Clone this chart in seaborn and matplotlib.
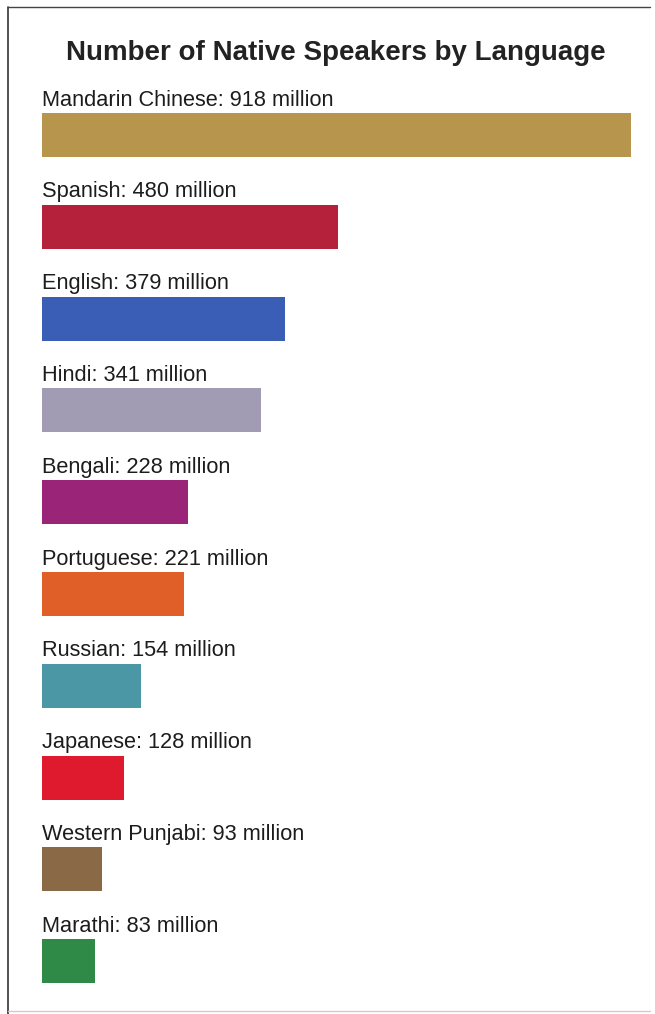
import matplotlib
matplotlib.use("Agg")
import matplotlib.pyplot as plt
import seaborn as sns
import pandas as pd
from matplotlib.lines import Line2D

languages = ["Mandarin Chinese", "Spanish", "English", "Hindi", "Bengali",
             "Portuguese", "Russian", "Japanese", "Western Punjabi", "Marathi"]
speakers_millions = [918, 480, 379, 341, 228, 221, 154, 128, 93, 83]
# bar lengths as drawn in the picture (Spanish bar is drawn shorter than its label)
bar_lengths = [918, 461, 379, 341, 228, 221, 154, 128, 93, 83]
colors = ["#B8954C", "#B5203A", "#3A5DB5", "#A19CB3", "#9A2478",
          "#E05E28", "#4B97A5", "#E01A2E", "#8A6A46", "#2F8A47"]

df = pd.DataFrame({"language": languages, "length": bar_lengths})

sns.set_theme(style="white")
plt.rcParams["font.family"] = ["Liberation Sans", "DejaVu Sans"]

W, H = 655, 1014
fig = plt.figure(figsize=(W / 100, H / 100), dpi=100)

step = 91.8
top_c, n = 135, len(languages)
y_top = top_c - step / 2
y_bot = top_c + (n - 1) * step + step / 2
ax = fig.add_axes([42 / W, (H - y_bot) / H, 589 / W, (y_bot - y_top) / H])

sns.barplot(data=df, y="language", x="length", hue="language",
            palette=colors, orient="h", width=0.48, legend=False, ax=ax,
            saturation=1, linewidth=0)
ax.set_xlim(0, 918)
ax.set_ylim(n - 0.5, -0.5)
ax.axis("off")

for i, (lang, val) in enumerate(zip(languages, speakers_millions)):
    ax.text(0, i - 0.24 - 0.08, f"{lang}: {val} million", ha="left",
            va="baseline", fontsize=15.7, color="#1c1c1c")

fig.text(336 / W, (H - 60) / H, "Number of Native Speakers by Language",
         ha="center", va="baseline", fontsize=20, fontweight="bold",
         color="#222222")

# frame lines
fig.add_artist(Line2D([8 / W, 8 / W], [0, (H - 7) / H], color="#333333", lw=1.2))
fig.add_artist(Line2D([8 / W, 650 / W], [(H - 7) / H, (H - 7) / H], color="#444444", lw=1.0))
fig.add_artist(Line2D([8 / W, 650 / W], [3 / H, 3 / H], color="#cccccc", lw=1.0))

fig.savefig("out.png", dpi=100)
